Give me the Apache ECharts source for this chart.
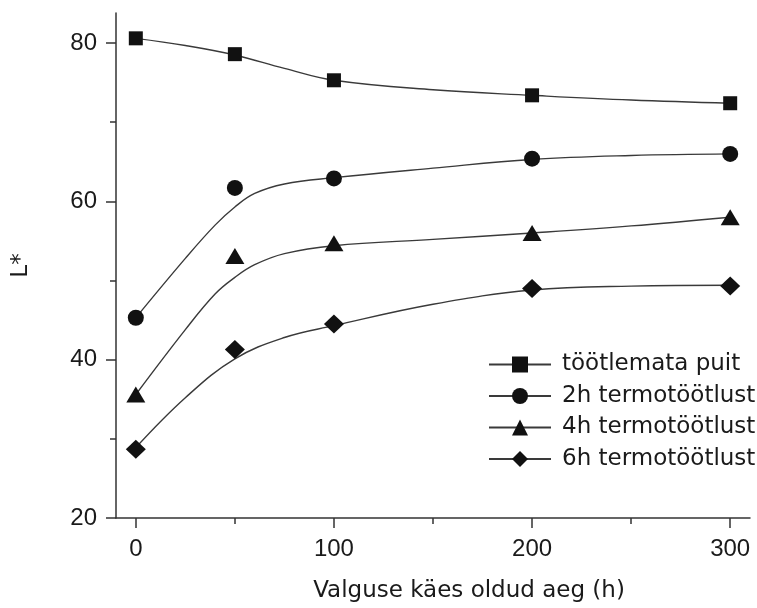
<!DOCTYPE html>
<html>
<head>
<meta charset="utf-8">
<script src="https://cdn.jsdelivr.net/npm/echarts@6/dist/echarts.min.js"></script>
<style>
  html, body { margin: 0; padding: 0; background: #fff; }
  #chart { width: 757px; height: 608px; }
</style>
</head>
<body>
<div id="chart"></div>
<script>
  // seeriate nimed
  var names = ['töötlemata puit', '2h termotöötlust', '4h termotöötlust', '6h termotöötlust'];
  var symbols = ['rect', 'circle', 'triangle', 'diamond'];
  var symbolSizes = [14, 16, [19, 16], [20, 19]];

  // mõõdetud punktid (x = tunnid)
  var hours = [0, 50, 100, 200, 300];
  var pts0 = [80.6, 78.6, 75.3, 73.4, 72.4];
  var pts1 = [45.3, 61.7, 62.9, 65.4, 66.0];
  var pts2 = [35.6, 53.1, 54.7, 56.0, 58.0];
  var pts3 = [28.7, 41.3, 44.5, 49.0, 49.3];

  // sobituskõverad, loetud pildilt
  var fitX0 = [0, 25, 50, 75, 100, 150, 200, 250, 300];
  var fit0 = [80.6, 79.7, 78.5, 76.8, 75.3, 74.1, 73.4, 72.8, 72.4];
  var fitX1 = [0, 25, 40, 50, 60, 75, 100, 150, 200, 250, 300];
  var fit1 = [45.3, 52.8, 57.0, 59.3, 61.0, 62.2, 63.0, 64.2, 65.3, 65.8, 66.0];
  var fitX2 = [0, 25, 40, 50, 60, 75, 100, 150, 200, 250, 300];
  var fit2 = [35.6, 43.8, 48.3, 50.4, 52.0, 53.4, 54.4, 55.2, 56.0, 56.9, 58.0];
  var fitX3 = [0, 25, 50, 75, 100, 150, 200, 250, 300];
  var fit3 = [28.9, 35.2, 40.1, 42.8, 44.3, 47.0, 48.8, 49.3, 49.4];

  // teljed
  var xMajor = [0, 100, 200, 300];
  var xMinor = [50, 150, 250];
  var yMajor = [20, 40, 60, 80];
  var yMinor = [30, 50, 70];

  var pts = [pts0, pts1, pts2, pts3];
  var fitXs = [fitX0, fitX1, fitX2, fitX3];
  var fits = [fit0, fit1, fit2, fit3];

  function pairs(xs, ys) {
    return xs.map(function (x, i) { return [x, ys[i]]; });
  }

  var axisColor = '#333';
  var tickFont = { color: '#1a1a1a', fontSize: 24, fontFamily: '"Liberation Sans", Arial, sans-serif' };

  var series = [];
  // kõigepealt jooned (legendi ikoon võetakse esimesest)
  for (var i = 0; i < names.length; i++) {
    series.push({
      name: names[i],
      type: 'line',
      data: pairs(fitXs[i], fits[i]),
      smooth: 0.4,
      showSymbol: false,
      symbol: symbols[i],
      itemStyle: { color: '#111' },
      lineStyle: { color: '#3a3a3a', width: 1.4 },
      z: 2
    });
  }
  for (var i = 0; i < names.length; i++) {
    series.push({
      name: names[i],
      type: 'scatter',
      data: pairs(hours, pts[i]),
      symbol: symbols[i],
      symbolSize: symbolSizes[i],
      itemStyle: { color: '#111', opacity: 1 },
      z: 3
    });
  }

  var option = {
    animation: false,
    backgroundColor: '#fff',
    grid: { left: 116, right: 7, top: 13, bottom: 89 },
    legend: {
      data: names,
      orient: 'vertical',
      left: 483,
      top: 348,
      itemWidth: 62,
      itemHeight: 20,
      itemGap: 8.5,
      selectedMode: false,
      textStyle: {
        color: '#1a1a1a',
        fontSize: 23,
        lineHeight: 23,
        fontFamily: '"DejaVu Sans", sans-serif',
        padding: [0, 0, 0, 6]
      }
    },
    xAxis: [
      {
        type: 'value',
        min: -10,
        max: 310,
        name: 'Valguse käes oldud aeg (h)',
        nameLocation: 'middle',
        nameGap: 62,
        nameTextStyle: {
          color: '#1a1a1a',
          fontSize: 23,
          fontFamily: '"DejaVu Sans", sans-serif',
          padding: [0, 0, 0, 72]
        },
        splitLine: { show: false },
        axisLine: { show: true, onZero: false, lineStyle: { color: axisColor, width: 1.5 } },
        axisTick: { show: true, customValues: xMajor, length: 10, lineStyle: { color: axisColor, width: 1.5 } },
        axisLabel: Object.assign({ customValues: xMajor, margin: 19 }, tickFont)
      },
      {
        type: 'value',
        min: -10,
        max: 310,
        position: 'bottom',
        splitLine: { show: false },
        axisLine: { show: false },
        axisTick: { show: true, customValues: xMinor, length: 6, lineStyle: { color: axisColor, width: 1.5 } },
        axisLabel: { show: false }
      }
    ],
    yAxis: [
      {
        type: 'value',
        min: 20,
        max: 83.8,
        name: 'L*',
        nameLocation: 'middle',
        nameGap: 83,
        nameRotate: 90,
        nameTextStyle: {
          color: '#1a1a1a',
          fontSize: 23,
          fontFamily: '"DejaVu Sans", sans-serif'
        },
        splitLine: { show: false },
        axisLine: { show: true, onZero: false, lineStyle: { color: axisColor, width: 1.5 } },
        axisTick: { show: true, customValues: yMajor, length: 10, lineStyle: { color: axisColor, width: 1.5 } },
        axisLabel: Object.assign({ customValues: yMajor, margin: 19 }, tickFont)
      },
      {
        type: 'value',
        min: 20,
        max: 83.8,
        position: 'left',
        splitLine: { show: false },
        axisLine: { show: false, onZero: false },
        axisTick: { show: true, customValues: yMinor, length: 6, lineStyle: { color: axisColor, width: 1.5 } },
        axisLabel: { show: false }
      }
    ],
    series: series
  };

  var myChart = echarts.init(document.getElementById('chart'));
  myChart.setOption(option);
</script>
</body>
</html>
